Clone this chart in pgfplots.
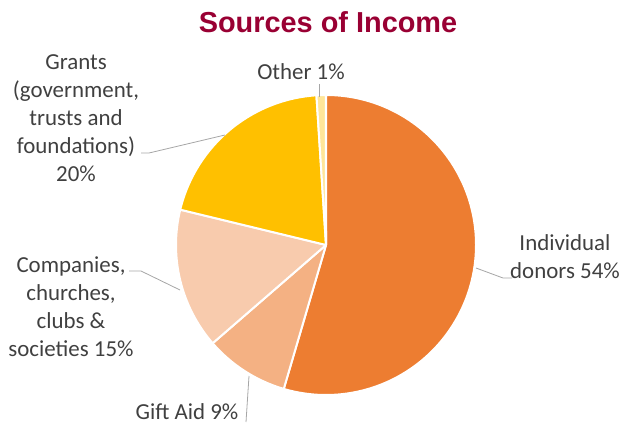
\documentclass[border=0pt]{standalone}
\usepackage{pgfplots}
\pgfplotsset{compat=1.18}
\usepackage{pgfplotstable}
\usepackage{fontspec}
\setmainfont{Carlito}
\newfontfamily\titlefont{Liberation Sans}

\definecolor{donors}{HTML}{ED7D31}
\definecolor{giftaid}{HTML}{F4B183}
\definecolor{companies}{HTML}{F8CBAD}
\definecolor{grants}{HTML}{FFC000}
\definecolor{other}{HTML}{FFE699}
\definecolor{titlered}{HTML}{990033}
\definecolor{labelgray}{HTML}{404040}
\definecolor{leader}{HTML}{A6A6A6}

% share of income, clockwise from 12 o'clock
\pgfplotstableread{
value colour
54 donors
9  giftaid
15 companies
20 grants
1  other
}\incometable

\def\pieR{150}

% slice angles from the table (plain pgfmath, outside the axis)
\pgfplotstablegetrowsof{\incometable}\pgfmathtruncatemacro\lastrow{\pgfplotsretval-1}
\def\total{0}
\pgfplotsforeachungrouped \i in {0,...,\lastrow}{%
  \pgfplotstablegetelem{\i}{value}\of\incometable
  \pgfmathsetmacro\total{\total+\pgfplotsretval}}
\def\startang{90}
\pgfplotsforeachungrouped \i in {0,...,\lastrow}{%
  \pgfplotstablegetelem{\i}{value}\of\incometable
  \let\sliceval\pgfplotsretval
  \pgfplotstablegetelem{\i}{colour}\of\incometable
  \expandafter\xdef\csname slicecol\i\endcsname{\pgfplotsretval}%
  \pgfmathsetmacro\endang{\startang-\sliceval/\total*360}%
  \expandafter\xdef\csname slicea\i\endcsname{\startang}%
  \expandafter\xdef\csname sliceb\i\endcsname{\endang}%
  \pgfmathsetmacro\sx{\pieR*cos(\startang)}%
  \pgfmathsetmacro\sy{-\pieR*sin(\startang)}%
  \expandafter\xdef\csname slicex\i\endcsname{\sx}%
  \expandafter\xdef\csname slicey\i\endcsname{\sy}%
  \global\let\startang\endang}

\begin{document}
\begin{tikzpicture}[
    lbl/.style={font=\fontsize{23}{28}\selectfont, text=labelgray, align=center, inner sep=0pt},
]
\begin{axis}[
    scale only axis,
    width=627bp, height=425bp,
    xmin=0, xmax=627, ymin=0, ymax=425,
    y dir=reverse,
    hide axis,
    clip=false,
]
\pgfplotsinvokeforeach{0,...,\lastrow}{%
  \edef\doslice{\noexpand\fill[fill=\csname slicecol#1\endcsname, draw=white, line width=2bp, line join=round]
    (axis cs:326,245) -- (axis cs:{326+\csname slicex#1\endcsname},{245+\csname slicey#1\endcsname})
    arc[start angle=\csname slicea#1\endcsname, end angle=\csname sliceb#1\endcsname, radius=\pieR bp] -- cycle;}%
  \doslice
}

\node[font=\titlefont\bfseries\fontsize{29}{34}\selectfont, text=titlered, inner sep=0pt]
  at (axis cs:328,22) {Sources of Income};

% leader lines
\draw[leader, line width=0.8bp] (axis cs:141,153) -- (axis cs:149,153) -- (axis cs:225,135);
\draw[leader, line width=0.8bp] (axis cs:319,84) -- (axis cs:319,97);
\draw[leader, line width=0.8bp] (axis cs:129,271) -- (axis cs:141,271) -- (axis cs:180,290);
\draw[leader, line width=0.8bp] (axis cs:246,422) -- (axis cs:249,376);
\draw[leader, line width=0.8bp] (axis cs:476,268) -- (axis cs:503,278) -- (axis cs:512,278);

% labels
\node[lbl] at (axis cs:76,118) {Grants\\(government,\\trusts and\\foundations)\\20\%};
\node[lbl] at (axis cs:301,72) {Other 1\%};
\node[lbl] at (axis cs:71,307) {Companies,\\churches,\\clubs \&\\societies 15\%};
\node[lbl] at (axis cs:187,412) {Gift Aid 9\%};
\node[lbl] at (axis cs:565,257) {Individual\\donors 54\%};

\coordinate (tl) at (axis cs:0,0);
\coordinate (br) at (axis cs:627,425);
\end{axis}
\pgfresetboundingbox
\path[use as bounding box] (tl) rectangle (br);
\end{tikzpicture}
\end{document}
